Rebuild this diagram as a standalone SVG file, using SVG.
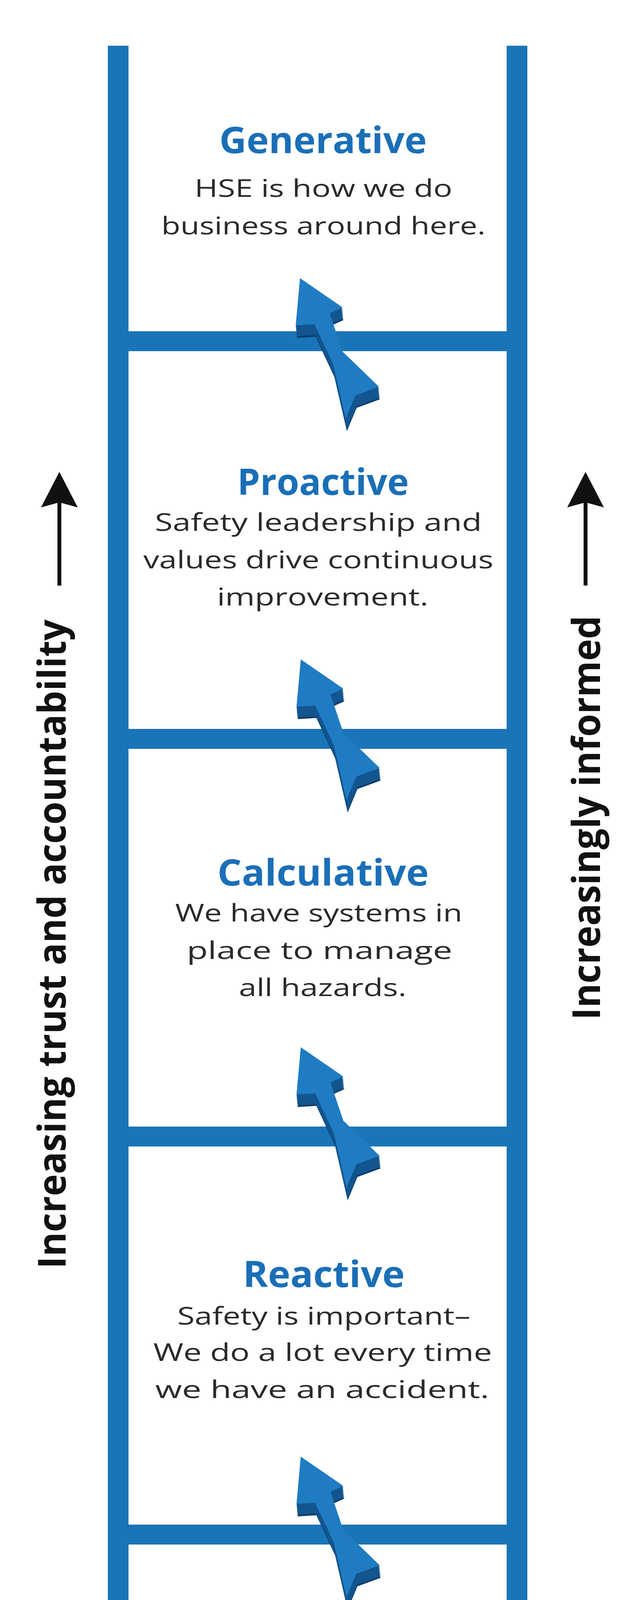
<svg xmlns="http://www.w3.org/2000/svg" xmlns:xlink="http://www.w3.org/1999/xlink" width="1600" height="4708" viewBox="0 0 1600 4708">
<style>
.rail{fill:#1a75b8}
.title{font-family:"Open Sans","Noto Sans","Liberation Sans",sans-serif;font-weight:700;font-size:94px;fill:#1a6fb7;text-anchor:middle}
.body{font-family:"Open Sans","Noto Sans","Liberation Sans",sans-serif;font-weight:400;font-size:62px;fill:#2a2a2a;text-anchor:middle}
.side{font-family:"Open Sans","Noto Sans","Liberation Sans",sans-serif;font-weight:700;font-size:98px;fill:#111}
.top{fill:#1f7cc3}
.dark{fill:#13558e}
.darker{fill:#0b3b68}
.axis{stroke:#111;stroke-width:10;fill:none}
</style>
<defs>
<path id="aShape" d="M0,0 L109,75 L76,90 L109,188 L202,278 L142,300 L117,360 L85,221 L37,118 L-11,121 Z"/>
<g id="arrow">
<use xlink:href="#aShape" class="darker" transform="translate(3,32)"/>
<use xlink:href="#aShape" class="dark" transform="translate(2.6,28)"/>
<use xlink:href="#aShape" class="dark" transform="translate(2.2,24)"/>
<use xlink:href="#aShape" class="dark" transform="translate(1.8,20)"/>
<use xlink:href="#aShape" class="dark" transform="translate(1.4,16)"/>
<use xlink:href="#aShape" class="dark" transform="translate(1,12)"/>
<use xlink:href="#aShape" class="dark" transform="translate(0.6,8)"/>
<use xlink:href="#aShape" class="dark" transform="translate(0.3,4)"/>
<use xlink:href="#aShape" class="top"/>
</g>
<path id="sideHead" d="M0,0 L47,91 L0,78 L-47,91 Z" fill="#111"/>
</defs>
<rect width="1600" height="4708" fill="#fff"/>
<g id="ladder">
<rect class="rail" x="276" y="117" width="53" height="4566"/>
<rect class="rail" x="1297" y="117" width="53" height="4566"/>
<rect class="rail" x="329" y="848" width="968" height="51"/>
<rect class="rail" x="329" y="1866" width="968" height="51"/>
<rect class="rail" x="329" y="2884" width="968" height="51"/>
<rect class="rail" x="329" y="3903" width="968" height="51"/>
</g>
<g id="connectors">
<use xlink:href="#arrow" transform="translate(768,712)"/>
<use xlink:href="#arrow" transform="translate(770,1688)"/>
<use xlink:href="#arrow" transform="translate(770,2681)"/>
<use xlink:href="#arrow" transform="translate(770,3729)"/>
</g>
<g id="node-generative">
<text class="title" x="827" y="392" textLength="531" lengthAdjust="spacingAndGlyphs">Generative</text>
<text class="body" x="828" y="504" textLength="660" lengthAdjust="spacingAndGlyphs">HSE is how we do</text>
<text class="body" x="828" y="600" textLength="830" lengthAdjust="spacingAndGlyphs">business around here.</text>
</g>
<g id="node-proactive">
<text class="title" x="827" y="1267" textLength="439" lengthAdjust="spacingAndGlyphs">Proactive</text>
<text class="body" x="815" y="1359" textLength="837" lengthAdjust="spacingAndGlyphs">Safety leadership and</text>
<text class="body" x="815" y="1455" textLength="896" lengthAdjust="spacingAndGlyphs">values drive continuous</text>
<text class="body" x="826" y="1550" textLength="541" lengthAdjust="spacingAndGlyphs">improvement.</text>
</g>
<g id="node-calculative">
<text class="title" x="827" y="2267" textLength="541" lengthAdjust="spacingAndGlyphs">Calculative</text>
<text class="body" x="816" y="2359" textLength="735" lengthAdjust="spacingAndGlyphs">We have systems in</text>
<text class="body" x="818" y="2455" textLength="680" lengthAdjust="spacingAndGlyphs">place to manage</text>
<text class="body" x="826" y="2550" textLength="429" lengthAdjust="spacingAndGlyphs">all hazards.</text>
</g>
<g id="node-reactive">
<text class="title" x="829" y="3295" textLength="414" lengthAdjust="spacingAndGlyphs">Reactive</text>
<text class="body" x="829" y="3391" textLength="750" lengthAdjust="spacingAndGlyphs">Safety is important–</text>
<text class="body" x="826" y="3484" textLength="867" lengthAdjust="spacingAndGlyphs">We do a lot every time</text>
<text class="body" x="825" y="3579" textLength="855" lengthAdjust="spacingAndGlyphs">we have an accident.</text>
</g>
<g id="node-pathological">
<text class="title" x="828" y="4307" textLength="599" lengthAdjust="spacingAndGlyphs">Pathological</text>
<text class="body" x="829" y="4402" textLength="812" lengthAdjust="spacingAndGlyphs">Who cares as long as</text>
<text class="body" x="829" y="4495" textLength="740" lengthAdjust="spacingAndGlyphs">we are not caught.</text>
</g>
<g id="axis-left">
<line class="axis" x1="152" y1="1285" x2="152" y2="1499"/>
<use xlink:href="#sideHead" transform="translate(152,1208)"/>
<text class="side" transform="translate(168,3248) rotate(-90)" textLength="1662" lengthAdjust="spacingAndGlyphs">Increasing trust and accountability</text>
</g>
<g id="axis-right">
<line class="axis" x1="1499" y1="1285" x2="1499" y2="1499"/>
<use xlink:href="#sideHead" transform="translate(1499,1208)"/>
<text class="side" transform="translate(1536,2611) rotate(-90)" textLength="1035" lengthAdjust="spacingAndGlyphs">Increasingly informed</text>
</g>
</svg>
